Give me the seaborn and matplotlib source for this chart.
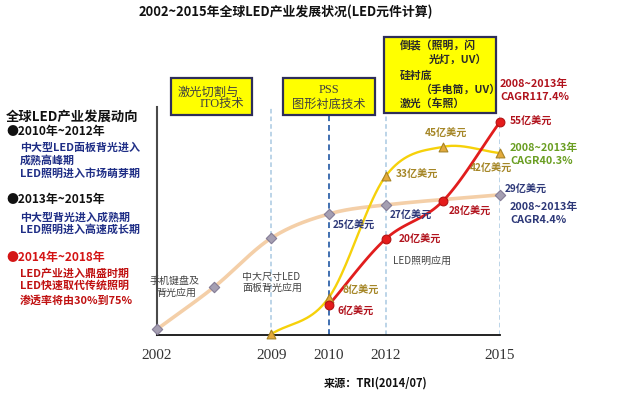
import numpy as np
import pandas as pd
import matplotlib
matplotlib.use('Agg')
import matplotlib.pyplot as plt
import seaborn as sns
from matplotlib.patches import Rectangle

# ---------------- data ----------------
years = ['2002', '2009', '2010', '2012', '2015']
year_stage = [0, 2, 3, 4, 6]

gray_stage = [0, 1, 2, 3, 4, 6]
gray_level = [1.2, 10.0, 20.2, 25.2, 27.1, 29.2]
gray_label = [None, None, None, '25亿美元', '27亿美元', '29亿美元']

yellow_stage = [2, 3, 4, 5, 6]
yellow_level = [0.2, 7.7, 33.1, 39.2, 37.9]
yellow_label = [None, '8亿美元', '33亿美元', '45亿美元', '42亿美元']

red_stage = [3, 4, 5, 6]
red_level = [6.2, 20.0, 27.9, 44.4]
red_label = ['6亿美元', '20亿美元', '28亿美元', '55亿美元']

title = '2002~2015年全球LED产业发展状况(LED元件计算)'
source = '来源：TRI(2014/07)'

# ---------------- style ----------------
sns.set_style('white')
plt.rcParams['font.family'] = ['Noto Sans CJK SC', 'DejaVu Sans']

W, H = 640, 396
fig = plt.figure(figsize=(6.4, 3.96), dpi=100)
fig.patch.set_facecolor('white')


def fx(x):
    return x / W


def fy(y):
    return 1 - y / H


ax = fig.add_axes([fx(157), fy(335), (500 - 157) / W, (335 - 107) / H])
ax.set_xlim(0, 6)
ax.set_ylim(0, 47.5)


def smooth(xs, ys, n=40):
    xs = np.asarray(xs, float)
    ys = np.asarray(ys, float)
    m = np.empty_like(ys)
    m[0] = (ys[1] - ys[0]) / (xs[1] - xs[0])
    m[-1] = (ys[-1] - ys[-2]) / (xs[-1] - xs[-2])
    m[1:-1] = (ys[2:] - ys[:-2]) / (xs[2:] - xs[:-2])
    X, Y = [], []
    for i in range(len(xs) - 1):
        h = xs[i + 1] - xs[i]
        t = np.linspace(0, 1, n, endpoint=False)
        h00 = 2 * t**3 - 3 * t**2 + 1
        h10 = t**3 - 2 * t**2 + t
        h01 = -2 * t**3 + 3 * t**2
        h11 = t**3 - t**2
        X.append(xs[i] + t * h)
        Y.append(h00 * ys[i] + h10 * h * m[i] + h01 * ys[i + 1] + h11 * h * m[i + 1])
    X.append([xs[-1]])
    Y.append([ys[-1]])
    return np.concatenate(X), np.concatenate(Y)


# vertical dashed guide lines
guide_top = [47.3, 45.8, 46.2, 45.8]
for st, top in zip([2, 3, 4, 6], guide_top):
    col = '#3f6fb0' if st == 3 else '#a9c9e2'
    lw = 1.4 if st == 3 else 1.1
    ax.vlines(st, 0, top, colors=col, linestyles=(0, (3, 2)), lw=lw, zorder=1)

series = [
    (gray_stage, gray_level, '#f4cfa8', 2.6, 'D', '#a59fb2', '#847c96', 28),
    (yellow_stage, yellow_level, '#f6d10a', 1.7, '^', '#e3aa3c', '#a88424', 40),
    (red_stage, red_level, '#e11d1d', 2.0, 'o', '#e51c1c', '#b31212', 40),
]
for z, (st, lv, lc, lw, mk, fc, ec, s) in enumerate(series):
    sx, sy = smooth(st, lv)
    sns.lineplot(x=sx, y=sy, ax=ax, color=lc, lw=lw, sort=False,
                 estimator=None, zorder=3 + z, clip_on=False)
    sns.scatterplot(x=st, y=lv, ax=ax, marker=mk, color=fc, edgecolor=ec,
                    linewidth=0.8, s=s, zorder=6 + z, clip_on=False, legend=False)

# value labels
lab_font = dict(fontsize=7.3, fontweight='bold', family=['Noto Sans CJK SC', 'DejaVu Sans'])
gray_off = {3: (4, -12, 'left'), 4: (4, -11, 'left'), 6: (5, 5, 'left')}
yel_off = {3: (14, 7, 'left'), 4: (10, 1, 'left'), 5: (3, 13, 'center'), 6: (-9, -16, 'center')}
red_off = {3: (9, -7, 'left'), 4: (13, -1, 'left'), 5: (6, -11, 'left'), 6: (10, 0, 'left')}
for st, lv, lb, offs, col in [
    (gray_stage, gray_level, gray_label, gray_off, '#2d3878'),
    (yellow_stage, yellow_level, yellow_label, yel_off, '#a58626'),
    (red_stage, red_level, red_label, red_off, '#b1131d'),
]:
    for s_, l_, t_ in zip(st, lv, lb):
        if t_ is None:
            continue
        dx, dy, ha = offs[s_]
        ax.annotate(t_, (s_, l_), xytext=(dx, dy), textcoords='offset pixels',
                    ha=ha, va='center', color=col, zorder=10, annotation_clip=False,
                    **lab_font)

# axes styling
sns.despine(ax=ax, top=True, right=True)
ax.spines['left'].set_color('#4a4a4a')
ax.spines['left'].set_linewidth(1.5)
ax.spines['bottom'].set_color('#111111')
ax.spines['bottom'].set_linewidth(1.3)
ax.set_yticks([])
ax.set_xticks(year_stage)
ax.set_xticklabels(years, family=['Liberation Serif'], fontsize=11, color='#333333')
ax.tick_params(axis='x', length=0, pad=10)
ax.set_xlabel('')
ax.set_ylabel('')
ax.set_facecolor('none')

# title & source
fig.text(fx(286), fy(12), title, ha='center', va='center', fontsize=9.3,
         fontweight='heavy', color='#111111')
fig.text(fx(376), fy(383), source, ha='center', va='center', fontsize=8.0,
         fontweight='heavy', color='#111111')

# yellow boxes
boxes = [(171, 78, 252, 115), (283, 78, 375, 115), (384, 37, 496, 113)]
for x0, y0, x1, y1 in boxes:
    fig.add_artist(Rectangle((fx(x0), fy(y1)), (x1 - x0) / W, (y1 - y0) / H,
                             transform=fig.transFigure, facecolor='#ffff00',
                             edgecolor='#2e2e5a', lw=1.6, zorder=5))

bt = dict(fontsize=8.8, color='#404040', zorder=6)
fig.text(fx(178), fy(92), '激光切割与', ha='left', va='center', **bt)
fig.text(fx(244), fy(104), 'ITO技术', ha='right', va='center',
         family=['Liberation Serif', 'Noto Sans CJK SC'], **bt)
fig.text(fx(329), fy(90), 'PSS', ha='center', va='center',
         family=['Liberation Serif'], **bt)
fig.text(fx(329), fy(104), '图形衬底技术', ha='center', va='center', **bt)

bb = dict(fontsize=7.8, color='#2a2a2a', fontweight='bold', zorder=6, va='center', ha='left')
fig.text(fx(400), fy(45), '倒装（照明，闪', **bb)
fig.text(fx(429), fy(60), '光灯，UV）', **bb)
fig.text(fx(400), fy(76), '硅衬底', **bb)
fig.text(fx(421), fy(90), '（手电筒，UV）', **bb)
fig.text(fx(400), fy(104), '激光（车照）', **bb)

# CAGR notes
cg = dict(fontsize=7.8, fontweight='bold', ha='left', va='center')
fig.text(fx(500), fy(84), '2008~2013年', color='#b1131d', **cg)
fig.text(fx(500), fy(97), 'CAGR117.4%', color='#b1131d', **cg)
fig.text(fx(510), fy(148), '2008~2013年', color='#6a9e22', **cg)
fig.text(fx(510), fy(161), 'CAGR40.3%', color='#6a9e22', **cg)
fig.text(fx(510), fy(207), '2008~2013年', color='#2d3878', **cg)
fig.text(fx(510), fy(220), 'CAGR4.4%', color='#2d3878', **cg)

# application notes
ap = dict(fontsize=7.2, color='#444444', ha='center', va='center', fontweight='light')
fig.text(fx(175), fy(281), '手机键盘及', **ap)
fig.text(fx(176), fy(293), '背光应用', **ap)
fig.text(fx(271), fy(277), '中大尺寸LED', **ap)
fig.text(fx(272), fy(288), '面板背光应用', **ap)
fig.text(fx(422), fy(261), 'LED照明应用', **ap)

# left-hand trend text
fig.text(fx(6), fy(117), '全球LED产业发展动向', fontsize=9.6, fontweight='heavy',
         color='#111111', ha='left', va='center')
left_lines = [
    (132, 6, '●2010年~2012年', '#111111'),
    (148, 20, '中大型LED面板背光进入', '#1f2e86'),
    (160, 20, '成熟高峰期', '#1f2e86'),
    (173, 20, 'LED照明进入市场萌芽期', '#1f2e86'),
    (200, 6, '●2013年~2015年', '#111111'),
    (217, 20, '中大型背光进入成熟期', '#1f2e86'),
    (229, 20, 'LED照明进入高速成长期', '#1f2e86'),
    (257, 6, '●2014年~2018年', '#d41515'),
    (273, 20, 'LED产业进入鼎盛时期', '#c01010'),
    (285, 20, 'LED快速取代传统照明', '#c01010'),
    (300, 20, '渗透率将由30%到75%', '#c01010'),
]
for y, x, t, c in left_lines:
    fs = 8.6 if t.startswith('●') else 7.9
    fig.text(fx(x), fy(y), t, fontsize=fs, fontweight='bold', color=c,
             ha='left', va='center')

fig.savefig('out.png', dpi=100, facecolor='white')
